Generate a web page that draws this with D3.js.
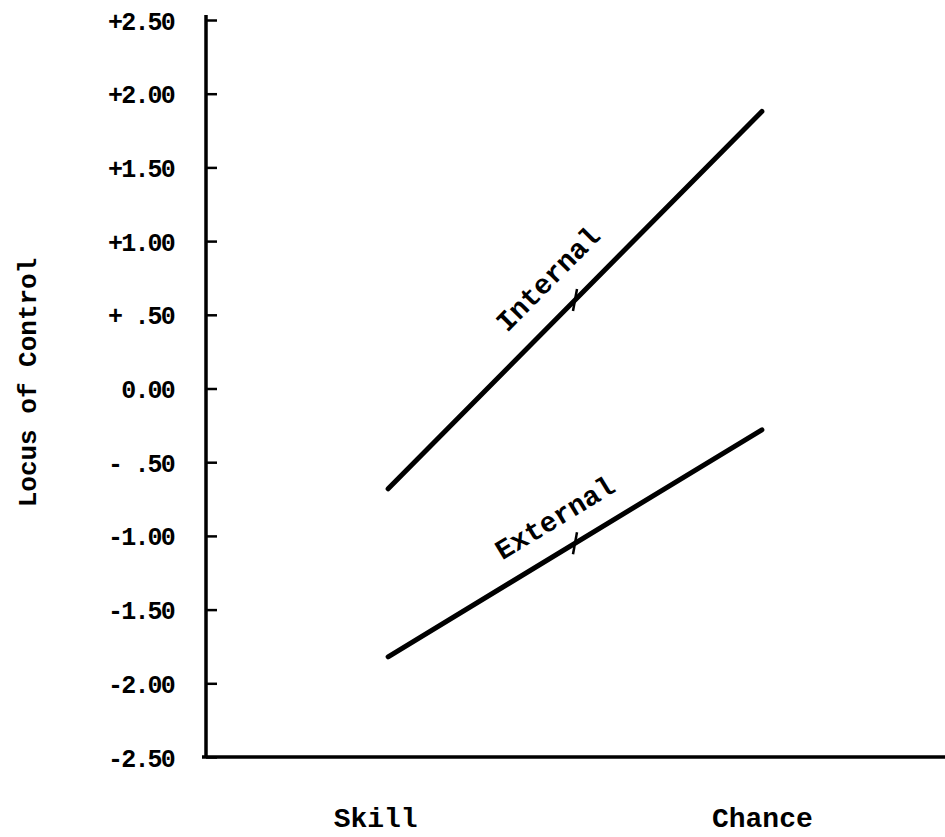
<!DOCTYPE html>
<html>
<head>
<meta charset="utf-8">
<script src="https://cdn.jsdelivr.net/npm/d3@7"></script>
<style>
  html, body { margin: 0; padding: 0; background: #fff; }
  svg { display: block; }
  text { font-family: "Liberation Mono", "Courier New", monospace; font-weight: bold; fill: #000; }
</style>
</head>
<body>
<svg id="chart" width="945" height="837"></svg>
<script>
// ---- data ----
const categories = ["Skill", "Chance"];
const seriesNames = ["Internal", "External"];
const internalValues = [-0.68, 1.88];
const externalValues = [-1.82, -0.28];
const tickValues = [2.5, 2.0, 1.5, 1.0, 0.5, 0.0, -0.5, -1.0, -1.5, -2.0, -2.5];
const tickLabels = ["+2.50", "+2.00", "+1.50", "+1.00", "+ .50", "0.00", "- .50", "-1.00", "-1.50", "-2.00", "-2.50"];
const yTitle = "Locus of Control";

const svg = d3.select("#chart");

const x = d3.scalePoint().domain(categories).range([205, 945]).padding(0.49);
const y = d3.scaleLinear().domain([-2.5, 2.5]).range([757, 20]);

// y axis
const yAxis = d3.axisLeft(y)
  .tickValues(tickValues)
  .tickFormat((d, i) => tickLabels[i])
  .tickSizeInner(-11)
  .tickSizeOuter(0)
  .tickPadding(32);

const gy = svg.append("g").attr("transform", "translate(206,0)").call(yAxis);
gy.select(".domain").attr("stroke", "#000").attr("stroke-width", 3.5)
  .attr("d", `M0,${y(2.5) - 5}V${y(-2.5)}`);
gy.selectAll(".tick line").attr("stroke", "#000").attr("stroke-width", 2.5);
gy.selectAll(".tick text")
  .style("font-size", "25px")
  .style("letter-spacing", "-1.8px")
  .attr("fill", "#000")
  .attr("dy", "0.36em");

// x axis
const xAxis = d3.axisBottom(x).tickSize(0).tickPadding(50);
const gx = svg.append("g").attr("transform", `translate(0,${y(-2.5)})`).call(xAxis);
gx.select(".domain").attr("stroke", "#000").attr("stroke-width", 3.5)
  .attr("d", `M202,0H945`);
gx.selectAll(".tick text")
  .style("font-size", "28px")
  .attr("fill", "#000")
  .attr("dx", d => d === "Skill" ? -13 : 0);

// y title
svg.append("text")
  .attr("transform", `translate(36,${y(0) - 6}) rotate(-90)`)
  .attr("text-anchor", "middle")
  .style("font-size", "26px")
  .text(yTitle);

// series lines
const series = [
  { name: seriesNames[0], values: internalValues, off: 25 },
  { name: seriesNames[1], values: externalValues, off: 23 }
];

const line = d3.line().x((d, i) => x(categories[i])).y(d => y(d));

series.forEach(s => {
  svg.append("path")
    .attr("d", line(s.values))
    .attr("fill", "none")
    .attr("stroke", "#000")
    .attr("stroke-width", 5)
    .attr("stroke-linecap", "round");

  const x0 = x(categories[0]), y0 = y(s.values[0]);
  const x1 = x(categories[1]), y1 = y(s.values[1]);
  const mx = (x0 + x1) / 2, my = (y0 + y1) / 2;
  const ang = Math.atan2(y1 - y0, x1 - x0) * 180 / Math.PI;

  // small crossing mark at midpoint
  svg.append("line")
    .attr("x1", mx + 2).attr("y1", my - 11)
    .attr("x2", mx - 2).attr("y2", my + 11)
    .attr("stroke", "#000").attr("stroke-width", 2.5);

  // label along line
  svg.append("text")
    .attr("transform", `translate(${mx},${my}) rotate(${ang})`)
    .attr("x", -4)
    .attr("y", -s.off)
    .attr("text-anchor", "middle")
    .style("font-size", "28px")
    .text(s.name);
});
</script>
</body>
</html>
